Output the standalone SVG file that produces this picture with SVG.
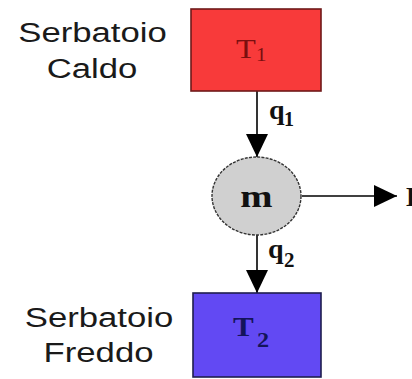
<svg xmlns="http://www.w3.org/2000/svg" width="412" height="379" viewBox="0 0 412 379">
  <style>
    .lbl { font-family: "Liberation Sans", Arial, sans-serif; font-size: 28px; fill: #1a1a1a; text-anchor: middle; }
    .ser { font-family: "Liberation Serif", "Times New Roman", serif; }
    .conn { stroke: #000; stroke-width: 1.6; fill: none; }
  </style>
  <defs>
    <marker id="ah" markerUnits="userSpaceOnUse" markerWidth="24" markerHeight="22" refX="23" refY="11" orient="auto">
      <path d="M0,0 L23,11 L0,22 Z" fill="#000"/>
    </marker>
  </defs>
  <rect width="412" height="379" fill="#fff"/>

  <g id="label-caldo">
    <text class="lbl" transform="translate(92.5,42) scale(1.24,1)">Serbatoio</text>
    <text class="lbl" transform="translate(92,78) scale(1.24,1)">Caldo</text>
  </g>
  <g id="label-freddo">
    <text class="lbl" transform="translate(99,327) scale(1.24,1)">Serbatoio</text>
    <text class="lbl" transform="translate(98.5,362) scale(1.24,1)">Freddo</text>
  </g>

  <g id="connectors">
    <line class="conn" x1="257" y1="91" x2="257" y2="157" marker-end="url(#ah)"/>
    <line class="conn" x1="257" y1="235" x2="257" y2="293" marker-end="url(#ah)"/>
    <line class="conn" x1="302" y1="196" x2="397" y2="196" marker-end="url(#ah)"/>
  </g>

  <g id="tank-hot">
    <rect x="191" y="9" width="130" height="82" fill="#f83a3a" stroke="#6e1a1a" stroke-width="1.6"/>
    <text class="ser" transform="translate(236,58) scale(1.2,1)" font-size="27" fill="#7a0f0f">T</text>
    <text class="ser" transform="translate(256,61) scale(1.1,1)" font-size="19" fill="#7a0f0f">1</text>
  </g>

  <g id="engine">
    <ellipse cx="256.5" cy="196" rx="44.5" ry="39" fill="#d0d0d0" stroke="#333" stroke-width="1.4" stroke-dasharray="3 1.2"/>
    <text class="ser" transform="translate(256.5,207) scale(1.25,1)" font-size="31" font-weight="bold" text-anchor="middle" fill="#111">m</text>
  </g>

  <g id="tank-cold">
    <rect x="193" y="293" width="128" height="84" fill="#6249f3" stroke="#1e1e4e" stroke-width="1.6"/>
    <text class="ser" transform="translate(233,336) scale(1.15,1)" font-size="27" font-weight="bold" fill="#14145a">T</text>
    <text class="ser" transform="translate(257,347) scale(1.1,1)" font-size="22" font-weight="bold" fill="#14145a">2</text>
  </g>

  <g id="label-q1">
    <text class="ser" x="269" y="119" font-size="28" font-weight="bold" fill="#111">q</text>
    <text class="ser" x="284" y="126" font-size="20" font-weight="bold" fill="#111">1</text>
  </g>
  <g id="label-q2">
    <text class="ser" x="268" y="258" font-size="28" font-weight="bold" fill="#111">q</text>
    <text class="ser" x="284" y="267" font-size="21" font-weight="bold" fill="#111">2</text>
  </g>
  <g id="label-L">
    <text class="ser" x="406" y="206" font-size="28" font-weight="bold" fill="#111">L</text>
  </g>
</svg>
